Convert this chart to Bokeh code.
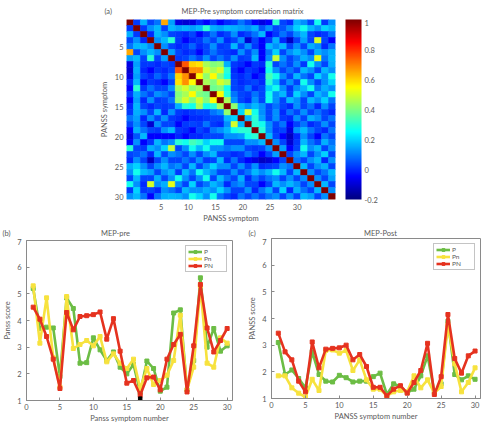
import numpy as np
from bokeh.plotting import figure
from bokeh.models import (LinearColorMapper, ColorBar, FixedTicker, Legend,
                          LegendItem, NumeralTickFormatter, ColumnDataSource)
from bokeh.layouts import column, row
from bokeh.embed import file_html
from bokeh.resources import INLINE
from bokeh.core.properties import value

# ---------------- correlation matrix (upper triangle, row by row) ----------------
row_01 = [0.02, 0.16, 0.03, 0.09, 0.65, 0.14, -0.08, -0.10, -0.08, 0.00, -0.05, 0.02, -0.05, 0.00, 0.02,
          0.09, 0.03, -0.05, -0.08, -0.05, 0.30, 0.03, 0.00, 0.16, 0.12, 0.03, 0.27, 0.02, 0.12]
row_02 = [0.02, 0.12, 0.17, 0.03, 0.17, 0.14, 0.16, 0.14, 0.17, 0.30, 0.16, 0.14, 0.17, 0.16, 0.14,
          0.12, 0.16, 0.05, 0.12, 0.03, 0.05, 0.12, 0.20, 0.27, 0.17, 0.12, 0.20, 0.17]
row_03 = [0.00, 0.17, 0.12, 0.03, 0.02, 0.00, 0.03, -0.05, 0.02, 0.09, 0.00, 0.03, 0.12, 0.00, 0.03,
          0.09, 0.17, -0.05, 0.02, 0.09, 0.03, 0.12, 0.17, 0.03, 0.00, 0.02, 0.09]
row_04 = [0.12, 0.17, 0.30, 0.02, -0.05, 0.00, 0.02, 0.09, 0.03, 0.12, 0.00, 0.03, 0.12, -0.10, 0.03,
          -0.05, 0.02, 0.16, 0.00, -0.12, 0.03, 0.14, 0.03, 0.50, 0.03, -0.05]
row_05 = [0.12, 0.03, 0.00, 0.02, 0.07, 0.00, 0.03, 0.12, 0.02, 0.03, 0.17, 0.03, 0.12, 0.02, -0.05,
          0.17, 0.12, 0.17, 0.03, 0.12, 0.03, 0.16, 0.12, 0.00, 0.09]
row_06 = [0.14, 0.03, 0.00, 0.02, -0.05, 0.03, 0.09, 0.03, 0.02, 0.00, 0.12, 0.03, 0.12, -0.05, 0.09,
          0.20, 0.03, 0.12, 0.17, 0.12, 0.03, 0.16, 0.12, 0.16]
row_07 = [0.02, 0.03, 0.09, 0.03, 0.12, 0.03, 0.09, 0.03, 0.12, 0.02, 0.03, 0.17, -0.05, 0.12, 0.48,
          0.12, 0.03, 0.09, 0.16, 0.12, 0.52, 0.09, 0.17]
row_08 = [0.75, 0.60, 0.58, 0.45, 0.40, 0.42, 0.16, 0.02, 0.00, -0.05, 0.02, 0.00, 0.30, 0.03, 0.09,
          0.03, 0.12, 0.02, 0.27, 0.12, 0.03, 0.16]
row_09 = [0.68, 0.68, 0.50, 0.45, 0.50, 0.30, 0.00, -0.05, 0.02, 0.00, -0.05, 0.27, 0.12, 0.03, 0.09,
          0.03, 0.17, 0.12, 0.03, 0.17, 0.12]
row_10 = [0.55, 0.42, 0.55, 0.40, 0.27, 0.02, 0.00, 0.03, -0.05, 0.00, 0.33, 0.27, 0.12, 0.03, 0.17,
          0.09, 0.03, 0.20, 0.12, 0.27]
row_11 = [0.45, 0.40, 0.50, 0.45, 0.03, 0.00, 0.02, 0.03, 0.00, 0.30, 0.17, 0.03, 0.12, 0.03, 0.27,
          0.12, 0.03, 0.12, 0.20]
row_12 = [0.38, 0.40, 0.27, 0.03, 0.02, 0.09, 0.00, 0.03, 0.20, 0.27, 0.12, 0.02, 0.12, 0.17, 0.27,
          0.09, 0.16, 0.12]
row_13 = [0.55, 0.30, 0.09, 0.03, 0.02, 0.09, 0.03, 0.27, 0.12, 0.17, 0.03, 0.20, 0.12, 0.03, 0.17,
          0.12, 0.27]
row_14 = [0.45, 0.12, 0.03, 0.00, 0.12, 0.03, 0.27, 0.12, 0.03, 0.17, 0.12, 0.03, 0.17, 0.12, 0.20, 0.09]
row_15 = [0.42, 0.17, 0.12, 0.17, 0.12, 0.03, 0.09, 0.03, 0.00, 0.12, 0.03, 0.09, 0.00, 0.12, 0.03]
row_16 = [0.20, 0.50, 0.27, 0.12, 0.03, 0.12, 0.00, 0.09, 0.03, 0.12, 0.03, 0.09, 0.03, 0.00]
row_17 = [0.17, 0.30, 0.14, 0.03, 0.12, 0.02, 0.00, 0.12, 0.03, 0.16, 0.12, 0.03, 0.09]
row_18 = [0.30, 0.27, 0.12, 0.03, 0.09, -0.05, 0.03, 0.09, 0.00, 0.03, 0.12, 0.03]
row_19 = [0.30, 0.12, 0.02, 0.03, -0.08, 0.12, 0.17, 0.09, 0.03, 0.00, 0.09]
row_20 = [0.17, 0.03, -0.05, -0.12, 0.00, 0.12, 0.03, -0.05, 0.09, 0.03]
row_21 = [0.12, 0.03, -0.10, 0.02, 0.17, 0.09, 0.03, 0.16, 0.09]
row_22 = [0.14, -0.05, 0.03, 0.27, 0.12, 0.17, 0.03, 0.12]
row_23 = [0.03, 0.12, 0.17, 0.03, 0.12, 0.20, 0.03]
row_24 = [0.09, 0.03, 0.12, 0.17, 0.00, 0.12]
row_25 = [0.17, 0.03, 0.12, 0.16, 0.03]
row_26 = [0.12, 0.03, 0.09, 0.17]
row_27 = [0.12, 0.03, 0.14]
row_28 = [0.17, 0.03]
row_29 = [0.12]

heat_xticks = [5, 10, 15, 20, 25, 30]
heat_yticks = [5, 10, 15, 20, 25, 30]
cbar_ticks = [-0.2, 0, 0.2, 0.4, 0.6, 0.8, 1]

# ---------------- PANSS scores per symptom ----------------
symptom = list(range(1, 31))

pre_P = [5.2, 3.7, 3.75, 3.72, 1.9, 4.85, 4.45, 2.4, 2.42, 3.35, 2.9, 2.5, 2.82, 2.25, 2.0,
         2.35, 1.3, 2.48, 2.2, 1.35, 1.5, 4.28, 4.4, 1.4, 2.5, 5.6, 3.0, 3.7, 2.85, 3.05]
pre_Pn = [5.3, 3.15, 4.85, 2.6, 1.5, 4.9, 2.95, 3.1, 3.25, 3.05, 3.4, 2.45, 2.75, 2.4, 2.2,
          2.55, 1.45, 2.2, 1.6, 1.75, 1.95, 2.5, 4.2, 1.4, 2.25, 5.3, 2.4, 2.25, 3.35, 3.15]
pre_PN = [4.5, 4.05, 3.4, 2.55, 1.45, 4.3, 3.65, 4.15, 4.18, 4.22, 4.32, 3.3, 4.07, 2.85, 1.65,
          1.75, 1.2, 1.85, 1.88, 1.4, 2.55, 3.1, 3.48, 1.32, 3.05, 5.35, 3.72, 2.82, 3.25, 3.7]
pre_mark_x = [17]
pre_mark_y = [1.07]

post_P = [3.1, 1.9, 2.07, 1.75, 1.4, 2.75, 1.9, 1.65, 1.62, 1.87, 1.78, 1.62, 1.65, 1.65, 1.82,
          1.95, 1.15, 1.55, 1.45, 1.22, 1.35, 1.85, 2.6, 1.25, 1.55, 3.9, 1.9, 1.7, 1.85, 1.72]
post_Pn = [1.85, 1.85, 1.4, 1.2, 1.05, 1.72, 1.3, 2.8, 2.82, 2.7, 2.8, 2.05, 2.45, 1.7, 1.35,
           1.35, 1.1, 1.25, 1.3, 1.25, 1.85, 1.4, 1.7, 1.2, 1.45, 3.75, 2.3, 1.25, 1.6, 2.15]
post_PN = [3.45, 2.75, 2.45, 1.65, 1.25, 3.12, 2.15, 2.85, 2.88, 2.9, 3.0, 2.45, 2.65, 2.2, 1.42,
           1.42, 1.1, 1.35, 1.48, 1.2, 1.6, 2.05, 3.07, 1.15, 1.82, 4.15, 2.5, 1.95, 2.6, 2.78]

score_ticks = [1, 2, 3, 4, 5, 6, 7]
symptom_ticks = [0, 5, 10, 15, 20, 25, 30]

series_names = ["P", "Pn", "PN"]
series_colors = ["#6cbd45", "#f7e23e", "#e5321f"]

panel_tags = ["(a)", "(b)", "(c)"]
panel_titles = ["MEP-Pre symptom correlation matrix", "MEP-pre", "MEP-Post"]

FONT = "Lato"
TXT = "#5a5a5a"
AX = "#8a8a8a"
TICK_PX = "7.5px"
LABEL_PX = "7.5px"


def jet(n):
    cols = []
    for i in range(n):
        f = i / (n - 1)
        r = min(max(1.5 - abs(4 * f - 3), 0), 1)
        g = min(max(1.5 - abs(4 * f - 2), 0), 1)
        b = min(max(1.5 - abs(4 * f - 1), 0), 1)
        cols.append("#%02x%02x%02x" % (int(r * 255), int(g * 255), int(b * 255)))
    return cols


def style_axes(p):
    for ax in (p.xaxis, p.yaxis):
        ax.major_label_text_font = FONT
        ax.major_label_text_font_size = TICK_PX
        ax.major_label_text_color = TXT
        ax.axis_label_text_font = FONT
        ax.axis_label_text_font_size = LABEL_PX
        ax.axis_label_text_font_style = "normal"
        ax.axis_label_text_color = TXT
        ax.minor_tick_line_color = None
        ax.axis_line_color = AX
        ax.major_tick_line_color = AX
        ax.major_tick_in = 3
        ax.major_tick_out = 0
    p.xgrid.visible = False
    p.ygrid.visible = False
    p.outline_line_color = AX
    p.outline_line_alpha = 1.0
    p.background_fill_color = "white"
    p.border_fill_color = "white"


def header(width, height, tags, titles):
    """A thin strip holding the panel letters and panel titles (pixel coordinates)."""
    h = figure(width=width, height=height, x_range=(0, width), y_range=(height, 0),
               x_axis_type=None, y_axis_type=None, output_backend="svg",
               toolbar_location=None, min_border=0, outline_line_color=None,
               frame_align=False)
    h.background_fill_color = "white"
    h.border_fill_color = "white"
    h.text(x=[t[0] for t in tags], y=[t[1] for t in tags], text=[t[2] for t in tags],
           text_font=value(FONT), text_font_size=LABEL_PX, text_color=TXT,
           text_align="left", text_baseline="middle")
    h.text(x=[t[0] for t in titles], y=[t[1] for t in titles], text=[t[2] for t in titles],
           text_font=value(FONT), text_font_size=LABEL_PX, text_color=TXT,
           text_align="center", text_baseline="middle")
    return h


# ---------------- (a) correlation matrix ----------------
upper = [row_01, row_02, row_03, row_04, row_05, row_06, row_07, row_08, row_09, row_10,
         row_11, row_12, row_13, row_14, row_15, row_16, row_17, row_18, row_19, row_20,
         row_21, row_22, row_23, row_24, row_25, row_26, row_27, row_28, row_29]
n = len(upper) + 1
mat = np.eye(n)
for i, vals in enumerate(upper):
    for k, v in enumerate(vals):
        j = i + 1 + k
        mat[i, j] = v
        mat[j, i] = v

cx, cy, cv = [], [], []
for i in range(n):
    for j in range(n):
        cx.append(j + 1)
        cy.append(i + 1)
        cv.append(mat[i, j])
heat_src = ColumnDataSource(dict(x=cx, y=cy, v=cv))

mapper = LinearColorMapper(palette=jet(256), low=-0.2, high=1.0)

head_a = header(490, 19, [(104, 11, panel_tags[0])], [(242, 11, panel_titles[0])])

pa = figure(width=490, height=208, x_range=(0.5, n + 0.5), y_range=(n + 0.5, 0.5),
            output_backend="svg", toolbar_location=None, frame_align=False,
            min_border_left=126, min_border_right=155, min_border_top=0, min_border_bottom=28)
pa.rect(x="x", y="y", width=1, height=1, source=heat_src,
        fill_color={"field": "v", "transform": mapper},
        line_color={"field": "v", "transform": mapper}, line_width=0.6)
style_axes(pa)
pa.outline_line_color = None
pa.xaxis.axis_line_color = None
pa.yaxis.axis_line_color = None
pa.xaxis.major_tick_line_color = None
pa.yaxis.major_tick_line_color = None
pa.xaxis.axis_label = "PANSS symptom"
pa.yaxis.axis_label = "PANSS symptom"
pa.xaxis.major_label_standoff = 4
pa.yaxis.major_label_standoff = 3
pa.xaxis.axis_label_standoff = 1
pa.yaxis.axis_label_standoff = 3
# the column ticks are spaced 0.781 cells apart, starting 5.48 cells in
x_tick_pos = [5.48 + (t - heat_xticks[0]) * 0.781 for t in heat_xticks]
pa.xaxis.ticker = FixedTicker(ticks=x_tick_pos)
pa.xaxis.major_label_overrides = {pos: str(t) for pos, t in zip(x_tick_pos, heat_xticks)}
pa.yaxis.ticker = FixedTicker(ticks=heat_yticks)

cbar = ColorBar(color_mapper=mapper, width=16, height=180, padding=0, margin=0,
                location=(10, 0), ticker=FixedTicker(ticks=cbar_ticks),
                formatter=NumeralTickFormatter(format="0.[0]"),
                major_label_text_font=FONT, major_label_text_font_size=TICK_PX,
                major_label_text_color=TXT, label_standoff=3,
                major_tick_line_color=None, bar_line_color=None,
                background_fill_color=None)
pa.add_layout(cbar, "right")


# ---------------- (b) / (c) score profiles ----------------
def score_panel(ys, xlabel, ylabel, borders, extra=None):
    left, right, top, bottom = borders
    p = figure(width=245, height=189, x_range=(0, 30.8), y_range=(1, 7),
               output_backend="svg", toolbar_location=None, frame_align=False,
               min_border_left=left, min_border_right=right,
               min_border_top=top, min_border_bottom=bottom)
    items = []
    for name, col, yv in zip(series_names, series_colors, ys):
        ln = p.line(symptom, yv, line_color=col, line_width=2.6)
        mk = p.scatter(symptom, yv, marker="square", size=4, fill_color=col, line_color=col)
        items.append(LegendItem(label=name, renderers=[ln, mk]))
    if extra is not None:
        p.scatter(extra[0], extra[1], marker="square", size=3.5, fill_color="black", line_color="black")
    leg = Legend(items=items, location="top_right", label_text_font=FONT,
                 label_text_font_size="6.5px", label_text_color=TXT,
                 glyph_height=7, glyph_width=14, label_height=7, label_standoff=2,
                 spacing=0, padding=2, margin=5, border_line_color=AX,
                 background_fill_alpha=1.0)
    p.add_layout(leg)
    style_axes(p)
    p.xaxis.axis_label = xlabel
    p.yaxis.axis_label = ylabel
    p.xaxis.ticker = FixedTicker(ticks=symptom_ticks)
    p.yaxis.ticker = FixedTicker(ticks=score_ticks)
    p.xaxis.major_label_standoff = 3
    p.yaxis.major_label_standoff = 5
    p.xaxis.axis_label_standoff = 1
    p.yaxis.axis_label_standoff = 2
    return p


head_bc = header(490, 11, [(2, 5, panel_tags[1]), (248, 5, panel_tags[2])],
                 [(115, 5, panel_titles[1]), (380, 5, panel_titles[2])])

pb = score_panel([pre_P, pre_Pn, pre_PN], "Panss symptom number", "Panss score",
                 (21, 13, 2, 27), extra=(pre_mark_x, pre_mark_y))
pc = score_panel([post_P, post_Pn, post_PN], "PANSS symptom number", "PANSS score",
                 (26, 10, 0, 29))

layout = column(head_a, pa, head_bc, row(pb, pc))

with open("out.html", "w") as f:
    f.write(file_html(layout, INLINE))
